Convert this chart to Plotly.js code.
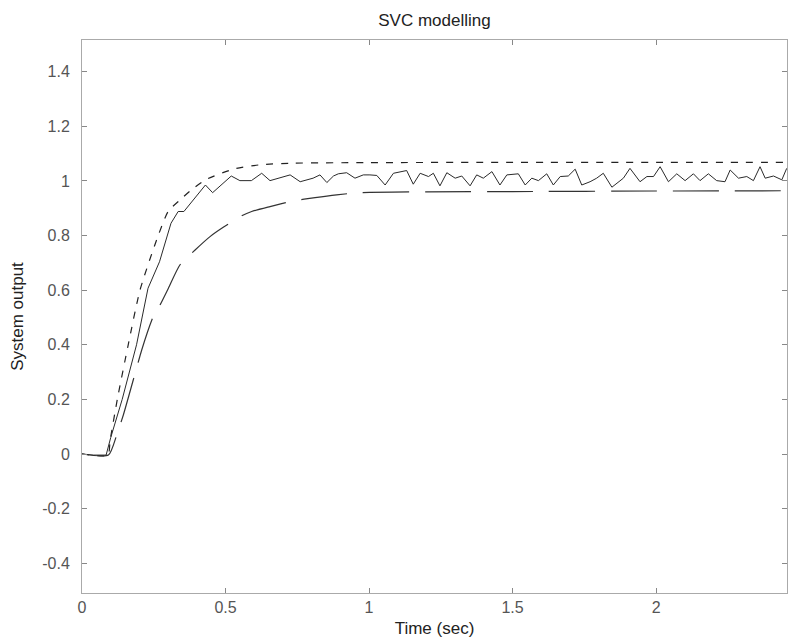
<!DOCTYPE html>
<html>
<head>
<meta charset="utf-8">
<script src="https://cdn.plot.ly/plotly-3.0.1.min.js"></script>
<style>html,body{margin:0;padding:0;background:#fff;}#chart{width:788px;height:642px;}</style>
</head>
<body>
<div id="chart"></div>
<script>
// Solid (noisy) response
var tSolid = [0, 0.04, 0.084, 0.1, 0.14, 0.19, 0.23, 0.27, 0.31, 0.335, 0.355, 0.43, 0.455, 0.52, 0.55, 0.59, 0.626, 0.655, 0.725, 0.76, 0.805, 0.829, 0.853, 0.876, 0.893, 0.922, 0.951, 0.98, 1.003, 1.027, 1.056, 1.085, 1.131, 1.154, 1.178, 1.207, 1.224, 1.247, 1.271, 1.300, 1.323, 1.352, 1.375, 1.398, 1.428, 1.456, 1.480, 1.520, 1.544, 1.567, 1.590, 1.619, 1.642, 1.666, 1.694, 1.718, 1.741, 1.770, 1.793, 1.816, 1.846, 1.886, 1.909, 1.944, 1.968, 1.991, 2.014, 2.043, 2.072, 2.101, 2.130, 2.153, 2.182, 2.211, 2.240, 2.258, 2.287, 2.316, 2.339, 2.362, 2.380, 2.409, 2.438, 2.455];
var ySolid = [0, -0.004, -0.004, 0.06, 0.2, 0.4, 0.607, 0.704, 0.845, 0.888, 0.888, 0.985, 0.957, 1.018, 1.001, 1.001, 1.028, 1.001, 1.022, 0.997, 1.01, 1.022, 0.994, 1.018, 1.026, 1.03, 1.01, 1.022, 1.022, 1.02, 0.985, 1.028, 1.038, 0.988, 1.028, 1.016, 1.028, 0.982, 1.03, 1.01, 1.018, 0.982, 1.022, 1.01, 1.034, 0.985, 1.022, 1.026, 0.985, 1.01, 1.001, 1.026, 0.985, 1.016, 1.018, 1.043, 0.985, 0.997, 1.01, 1.028, 0.977, 1.01, 1.046, 0.997, 1.016, 1.016, 1.052, 0.997, 1.026, 1.001, 1.026, 1.001, 1.026, 1.001, 0.997, 1.04, 1.01, 1.016, 1.001, 1.052, 1.01, 1.018, 1.004, 1.046];

// Short-dashed response
var tDash = [0, 0.09, 0.098, 0.123, 0.161, 0.202, 0.26, 0.30, 0.341, 0.388, 0.434, 0.527, 0.62, 0.736, 1.0, 1.5, 2.0, 2.456];
var yDash = [0, -0.004, 0.05, 0.2, 0.4, 0.6, 0.784, 0.888, 0.93, 0.973, 1.006, 1.043, 1.059, 1.065, 1.067, 1.068, 1.068, 1.068];

// Long-dashed response
var tLong = [0, 0.092, 0.121, 0.144, 0.19, 0.208, 0.248, 0.272, 0.301, 0.341, 0.394, 0.446, 0.492, 0.556, 0.591, 0.655, 0.736, 0.812, 0.887, 0.969, 1.2, 1.5, 2.0, 2.456];
var yLong = [0, -0.004, 0.07, 0.143, 0.314, 0.381, 0.503, 0.546, 0.607, 0.692, 0.747, 0.796, 0.83, 0.872, 0.888, 0.906, 0.927, 0.939, 0.949, 0.957, 0.96, 0.961, 0.963, 0.964];

var xTickVals = [0, 0.5, 1, 1.5, 2];
var xTickText = ["0", "0.5", "1", "1.5", "2"];
var yTickVals = [-0.4, -0.2, 0, 0.2, 0.4, 0.6, 0.8, 1, 1.2, 1.4];
var yTickText = ["-0.4", "-0.2", "0", "0.2", "0.4", "0.6", "0.8", "1", "1.2", "1.4"];

var traces = [
  {x: tDash, y: yDash, mode: 'lines', line: {color: '#222', width: 1.2, dash: '7px,8px', shape: 'spline', smoothing: 0.6}, hoverinfo: 'skip'},
  {x: tLong, y: yLong, mode: 'lines', line: {color: '#333', width: 1.2, dash: '46px,16px', shape: 'spline', smoothing: 0.6}, hoverinfo: 'skip'},
  {x: tSolid, y: ySolid, mode: 'lines', line: {color: '#2a2a2a', width: 1}, hoverinfo: 'skip'}
];

var fam = 'Liberation Sans, Arial, sans-serif';
var axisFont = {family: fam, size: 16, color: '#555'};
var layout = {
  width: 788, height: 642,
  margin: {l: 82, r: 1, t: 40, b: 49},
  paper_bgcolor: '#fff', plot_bgcolor: '#fff',
  showlegend: false,
  title: {text: 'SVC modelling', font: {family: fam, size: 17, color: '#222'}, xref: 'paper', x: 0.5, xanchor: 'center', yref: 'container', y: 0.968, yanchor: 'middle'},
  xaxis: {
    range: [0, 2.456], tickvals: xTickVals, ticktext: xTickText,
    ticks: 'inside', ticklen: 5, tickcolor: '#888', showline: true, linecolor: '#aaa', linewidth: 1, mirror: 'ticks',
    showgrid: false, zeroline: false, tickfont: axisFont,
    title: {text: 'Time (sec)', font: {family: fam, size: 17, color: '#222'}, standoff: 6}
  },
  yaxis: {
    range: [-0.509, 1.516], tickvals: yTickVals, ticktext: yTickText,
    ticks: 'inside', ticklen: 5, tickcolor: '#888', showline: true, linecolor: '#aaa', linewidth: 1, mirror: 'ticks',
    showgrid: false, zeroline: false, tickfont: axisFont, ticklabelstandoff: 8,
    title: {text: 'System output', font: {family: fam, size: 17, color: '#222'}, standoff: 14}
  }
};

Plotly.newPlot('chart', traces, layout, {displayModeBar: false, staticPlot: true});
</script>
</body>
</html>
